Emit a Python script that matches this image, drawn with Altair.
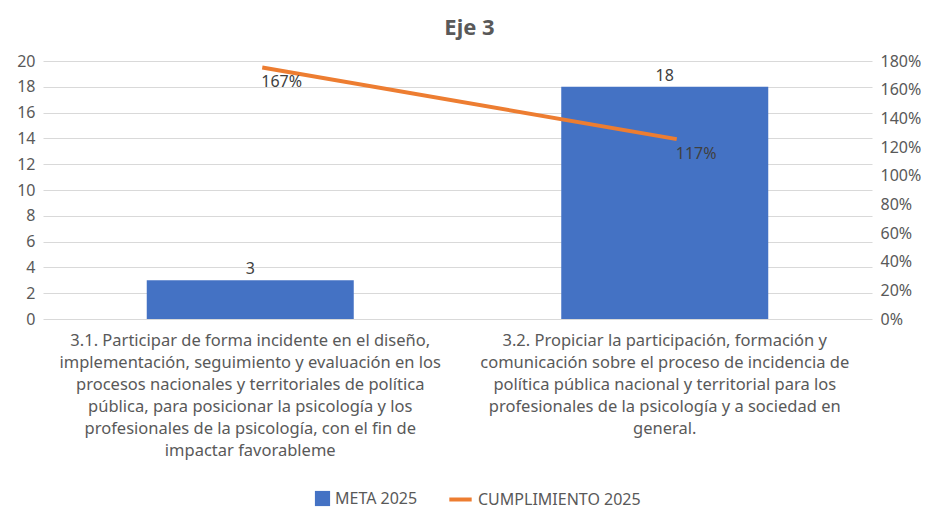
import altair as alt
import pandas as pd

categorias = [
    "3.1. Participar de forma incidente en el diseño,|implementación, seguimiento y evaluación en los|procesos nacionales y territoriales de política|pública, para posicionar la psicología y los|profesionales de la psicología, con el fin de|impactar favorableme",
    "3.2. Propiciar la participación, formación y|comunicación sobre el proceso de incidencia de|política pública nacional y territorial para los|profesionales de la psicología y a sociedad en|general.",
]
meta_2025 = [3, 18]
cumplimiento_2025 = [1.755, 1.255]
etiquetas_cumplimiento = ["167%", "117%"]

df = pd.DataFrame({
    "categoria": categorias,
    "meta": meta_2025,
    "cumplimiento": cumplimiento_2025,
    "etiqueta": etiquetas_cumplimiento,
})

FONT = "Noto Sans"
GREY = "#595959"
DARK = "#404040"

x_enc = alt.X(
    "categoria:N", sort=None, title=None,
    scale=alt.Scale(paddingInner=0.5, paddingOuter=0.25),
    axis=alt.Axis(labelAngle=0, labelExpr="split(datum.label, '|')",
                  labelLineHeight=22, labelFontSize=16.5, labelColor=GREY,
                  labelFont=FONT, labelPadding=13, labelBaseline="top",
                  domain=False, ticks=False, labelLimit=0),
)

y_left = alt.Y(
    "meta:Q", title=None,
    scale=alt.Scale(domain=[0, 20], nice=False),
    axis=alt.Axis(values=list(range(0, 21, 2)), grid=True, gridColor="#d9d9d9",
                  domain=False, ticks=False, labelColor=GREY, labelFont=FONT,
                  labelFontSize=16, labelPadding=8),
)

y_right = alt.Y(
    "cumplimiento:Q", title=None,
    scale=alt.Scale(domain=[0, 1.8], nice=False),
    axis=alt.Axis(orient="right", values=[i / 10 for i in range(0, 19, 2)], format=".0%",
                  grid=False, domain=False, ticks=False, labelColor=GREY,
                  labelFont=FONT, labelFontSize=16, labelPadding=8),
)

bars = alt.Chart(df).mark_bar(size=207).encode(
    x=x_enc,
    y=y_left,
    color=alt.Color(
        "serie:N",
        scale=alt.Scale(domain=["META 2025"], range=["#4472C4"]),
        legend=alt.Legend(title=None, orient="none", legendX=271, legendY=429,
                          symbolType="square", symbolSize=230,
                          labelFontSize=16, labelColor=GREY, labelFont=FONT),
    ),
).transform_calculate(serie="'META 2025'")

bar_text = alt.Chart(df).mark_text(
    baseline="bottom", dy=-3, fontSize=16, color=DARK, font=FONT
).encode(x=x_enc, y=y_left, text=alt.Text("meta:Q"))

line = alt.Chart(df).mark_line(strokeWidth=4, xOffset=12).encode(
    x=x_enc,
    y=y_right,
    stroke=alt.Stroke(
        "serie:N",
        scale=alt.Scale(domain=["CUMPLIMIENTO 2025"], range=["#ED7D31"]),
        legend=alt.Legend(title=None, orient="none", legendX=404, legendY=425,
                          symbolType="stroke", symbolSize=500, symbolStrokeWidth=4,
                          symbolStrokeColor="#ED7D31",
                          labelFontSize=16, labelColor=GREY, labelFont=FONT),
    ),
).transform_calculate(serie="'CUMPLIMIENTO 2025'")

line_text = alt.Chart(df).mark_text(
    align="left", baseline="middle", dx=11, dy=15, fontSize=16, color=DARK, font=FONT
).encode(x=x_enc, y=y_right, text="etiqueta:N")

left = alt.layer(bars, bar_text)
right = alt.layer(line, line_text)

chart = alt.layer(left, right).resolve_scale(
    y="independent", color="independent", stroke="independent"
).properties(
    width=829,
    height=258,
    title=alt.TitleParams("Eje 3", fontSize=22, fontWeight="bold", color=GREY,
                          font=FONT, anchor="middle", offset=13, dx=12),
    autosize=alt.AutoSizeParams(type="none"),
    padding={"left": 35, "top": 53, "right": 49, "bottom": 191},
).configure_view(stroke=None).configure_legend(labelLimit=0)

chart.save("out.html", embed_options={"renderer": "svg", "actions": False})
